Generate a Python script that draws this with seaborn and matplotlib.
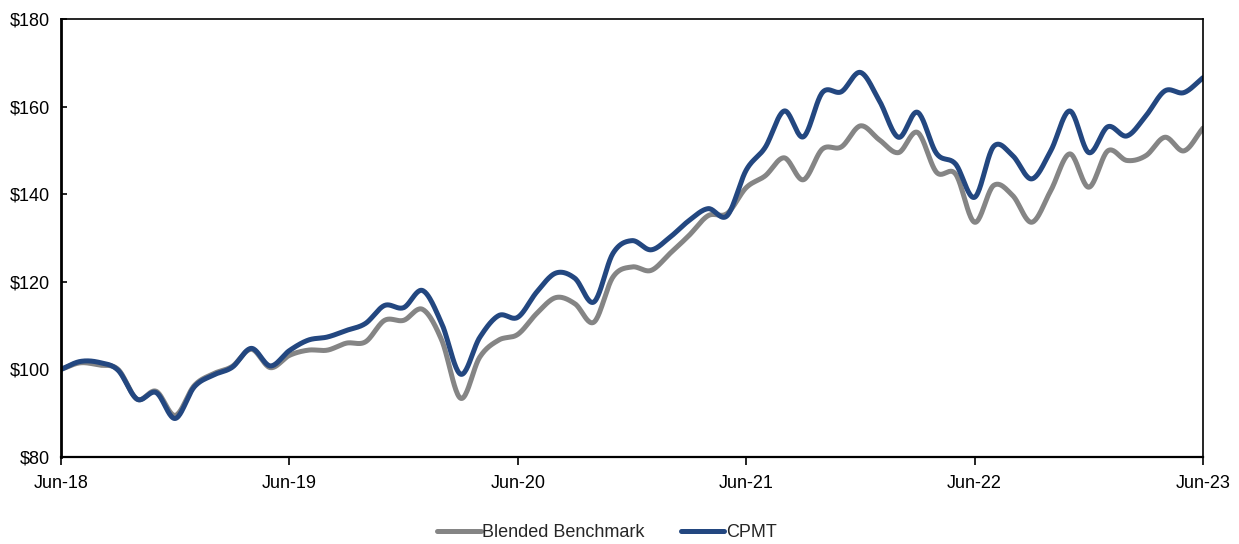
import numpy as np
import pandas as pd
import matplotlib
matplotlib.use("Agg")
import matplotlib.pyplot as plt
import seaborn as sns

# Monthly growth of $100, Jun-18 .. Jun-23
months = list(range(61))
cpmt = [100.0, 101.8, 101.6, 99.8, 93.2, 94.7, 88.8, 96.0, 98.7, 100.5, 104.8, 100.8,
        104.3, 106.7, 107.4, 108.9, 110.5, 114.6, 114.1, 118.0, 110.5, 98.9, 107.3, 112.3,
        111.9, 117.7, 122.0, 120.8, 115.4, 126.5, 129.4, 127.3, 130.2, 134.0, 136.7, 135.1,
        145.5, 150.7, 159.0, 153.1, 163.2, 163.4, 167.8, 161.3, 153.0, 158.7, 149.3, 146.9,
        139.3, 150.9, 148.8, 143.5, 149.9, 159.0, 149.5, 155.4, 153.3, 157.9, 163.6, 163.2,
        166.6]
benchmark = [100.0, 101.5, 101.0, 100.0, 93.2, 95.0, 89.5, 96.3, 99.0, 100.7, 104.6, 100.4,
             103.2, 104.4, 104.4, 106.0, 106.3, 111.2, 111.2, 113.7, 106.7, 93.4, 102.8, 106.7,
             108.0, 112.8, 116.4, 115.0, 110.8, 121.1, 123.4, 122.6, 126.5, 130.6, 135.1, 135.6,
             141.5, 144.2, 148.3, 143.3, 150.3, 150.8, 155.6, 152.4, 149.5, 154.1, 145.0, 144.6,
             133.6, 142.0, 139.7, 133.6, 140.8, 149.2, 141.6, 149.9, 147.7, 148.8, 153.0, 149.9,
             155.1]
series_names = ["Blended Benchmark", "CPMT"]
tick_months = [0, 12, 24, 36, 48, 60]
tick_labels = ["Jun-18", "Jun-19", "Jun-20", "Jun-21", "Jun-22", "Jun-23"]
y_ticks = [80, 100, 120, 140, 160, 180]


def smooth(x, y, n=24):
    """Catmull-Rom spline through the points (smoothed line style)."""
    x = np.asarray(x, float)
    y = np.asarray(y, float)
    px = np.concatenate([[2 * x[0] - x[1]], x, [2 * x[-1] - x[-2]]])
    py = np.concatenate([[2 * y[0] - y[1]], y, [2 * y[-1] - y[-2]]])
    xs, ys = [], []
    t = np.linspace(0, 1, n, endpoint=False)
    for i in range(1, len(px) - 2):
        for P, out in ((px, xs), (py, ys)):
            p0, p1, p2, p3 = P[i - 1], P[i], P[i + 1], P[i + 2]
            out.extend(0.5 * (2 * p1 + (-p0 + p2) * t
                              + (2 * p0 - 5 * p1 + 4 * p2 - p3) * t ** 2
                              + (-p0 + 3 * p1 - 3 * p2 + p3) * t ** 3))
    xs.append(x[-1])
    ys.append(y[-1])
    return np.array(xs), np.array(ys)


frames = []
for name, vals in zip(series_names, [benchmark, cpmt]):
    sx, sy = smooth(months, vals)
    frames.append(pd.DataFrame({"month": sx, "value": sy, "series": name}))
df = pd.concat(frames, ignore_index=True)

sns.set_theme(style="white")
plt.rcParams["font.family"] = ["Liberation Sans", "DejaVu Sans"]

fig = plt.figure(figsize=(12.39, 5.44), dpi=100)
ax = fig.add_axes([61 / 1239, 1 - 457 / 544, (1203 - 61) / 1239, (457 - 19) / 544])

palette = {"Blended Benchmark": "#858585", "CPMT": "#234780"}
sns.lineplot(data=df, x="month", y="value", hue="series", hue_order=series_names,
             palette=palette, sort=False, estimator=None, linewidth=3.6,
             legend=False, ax=ax)

ax.set_xlim(0, 60)
ax.set_ylim(80, 180)
ax.set_xticks(tick_months)
ax.set_xticklabels(tick_labels)
ax.set_yticks(y_ticks)
ax.set_yticklabels([f"${v}" for v in y_ticks])
ax.set_xlabel("")
ax.set_ylabel("")
ax.tick_params(axis="x", direction="out", length=6, width=1.2, colors="black",
               labelsize=13, pad=7, bottom=True)
ax.tick_params(axis="y", direction="in", length=4, width=1.2, colors="black",
               labelsize=13, pad=8, left=True)

for side, lw in (("left", 2.0), ("bottom", 1.6), ("top", 1.2), ("right", 1.2)):
    ax.spines[side].set_visible(True)
    ax.spines[side].set_color("black")
    ax.spines[side].set_linewidth(lw)

handles = ax.get_lines()[:2]
fig.legend(handles, series_names, loc="lower center", bbox_to_anchor=(0.49, -0.025),
           ncol=2, frameon=False, fontsize=13, handlelength=2.4,
           handletextpad=0.1, columnspacing=2.0)

fig.savefig("out.png", dpi=100)
